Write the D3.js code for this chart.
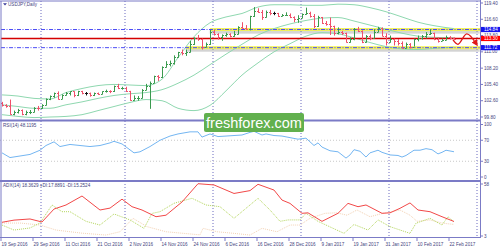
<!DOCTYPE html>
<html>
<head>
<meta charset="utf-8">
<script src="https://cdn.jsdelivr.net/npm/d3@7"></script>
<style>
  body { margin: 0; background: #fff; }
  svg { display: block; }
  text { font-family: "Liberation Sans", Arial, sans-serif; }
</style>
</head>
<body>
<svg id="chart" width="500" height="250"></svg>
<script>
// daily bars, 19 Sep 2016 .. 23 Feb 2017 (index = bar number)
var open = [102.2,101.8,101.7,100.3,100.7,101.0,100.3,100.6,100.7,101.4,
  101.3,101.9,102.9,103.4,103.9,102.9,103.6,103.9,104.2,103.5,
  104.2,103.9,103.9,103.5,103.9,103.8,104.2,104.3,104.2,105.1,
  104.7,104.8,104.2,102.7,103.0,103.1,104.5,105.2,105.7,106.8,
  106.6,108.4,108.9,109.1,110.2,110.9,110.8,111.0,112.4,113.3,
  113.2,111.9,112.3,114.5,114.0,113.5,113.9,114.1,113.8,114.1,
  115.3,115.1,115.0,117.1,118.1,117.9,117.0,117.9,117.6,117.6,
  117.2,117.3,117.4,117.0,116.6,116.9,117.5,117.7,117.2,115.4,
  117.0,115.9,115.8,115.4,114.2,114.5,114.2,112.7,113.2,115.0,
  114.6,112.7,113.8,113.3,114.5,115.1,113.8,112.7,113.2,112.8,
  112.6,111.7,112.3,111.9,113.2,113.3,113.7,114.1,114.2,113.2,
  112.9,113.1,113.6,113.3];
var high = [102.4,102.0,102.8,100.9,101.2,101.1,100.9,101.0,101.5,101.7,
  102.0,103.0,103.5,104.0,104.2,103.7,104.1,104.2,104.2,104.3,
  104.3,104.1,104.0,104.0,104.0,104.2,104.5,104.4,105.2,105.5,
  105.0,105.0,104.3,103.5,103.4,104.6,105.5,105.9,106.9,107.0,
  108.5,109.4,109.5,110.4,111.0,111.4,111.4,112.9,113.5,113.9,
  113.3,112.6,114.8,114.8,114.2,114.0,114.3,114.2,114.6,115.4,
  116.1,115.6,117.2,118.7,118.5,118.2,118.1,118.2,117.9,117.7,
  117.5,117.8,117.6,117.1,117.3,117.6,118.6,117.9,117.5,117.2,
  117.0,116.3,116.9,115.5,115.2,114.6,114.3,113.5,115.1,115.3,
  114.7,113.9,114.0,114.9,115.3,115.2,114.2,113.8,113.3,113.2,
  112.8,112.6,112.5,113.3,113.8,113.9,114.4,114.9,114.3,113.5,
  113.3,113.8,113.7,113.5];
var low = [101.6,101.4,100.2,100.1,100.4,100.1,100.1,100.3,100.6,100.9,
  101.2,101.8,102.7,103.1,102.8,102.9,103.5,103.5,103.2,103.4,
  103.7,103.5,103.3,103.4,103.6,103.7,104.0,103.9,104.1,104.6,
  104.5,104.1,102.6,102.6,102.6,103.0,104.4,101.2,105.6,106.0,
  106.5,108.3,108.5,108.8,110.0,110.4,110.3,110.9,112.2,112.9,
  111.4,111.8,112.2,113.8,113.1,112.9,113.6,113.5,113.6,114.0,
  115.0,114.8,114.7,117.0,117.7,116.5,116.9,117.3,117.3,117.0,
  117.1,117.2,116.8,116.1,116.0,116.8,117.4,116.9,115.1,115.3,
  115.8,115.5,113.9,113.8,114.0,113.9,112.6,112.6,113.0,114.4,
  112.5,112.6,113.0,113.3,114.4,113.7,112.1,112.6,112.1,112.1,
  111.6,111.6,111.6,111.9,112.8,113.1,113.3,113.9,113.0,112.6,
  112.9,113.0,113.1,113.0];
var close = [101.8,101.7,100.3,100.7,101.0,100.3,100.6,100.7,101.4,101.3,
  101.9,102.9,103.4,103.9,102.9,103.6,103.9,104.2,103.5,104.2,
  103.9,103.9,103.5,103.9,103.8,104.2,104.3,104.2,105.1,104.7,
  104.8,104.2,102.7,103.0,103.1,104.5,105.2,105.7,106.8,106.6,
  108.4,108.9,109.1,110.2,110.9,110.8,111.0,112.4,113.3,113.2,
  111.9,112.3,114.5,114.0,113.5,113.9,114.1,113.8,114.1,115.3,
  115.1,115.0,117.1,118.1,117.9,117.0,117.9,117.6,117.6,117.2,
  117.3,117.4,117.0,116.6,116.9,117.5,117.7,117.2,115.4,117.0,
  115.9,115.8,115.4,114.2,114.5,114.2,112.7,113.2,115.0,114.6,
  112.7,113.8,113.3,114.5,115.1,113.8,112.7,113.2,112.8,112.6,
  111.7,112.3,111.9,113.2,113.3,113.7,114.1,114.2,113.2,112.9,
  113.1,113.6,113.3,113.2];

// Bollinger bands: [bar, value]
var bbUpper = [[0,103.6],[4,103.4],[8,103.0],[12,102.9],[16,104.0],[20,104.7],[24,105.2],[28,105.4],
  [32,105.3],[36,105.2],[40,106.3],[44,110.0],[48,113.6],[52,116.0],[56,117.0],[60,117.6],[64,118.7],
  [68,119.1],[72,119.1],[76,119.0],[80,119.0],[84,119.2],[88,119.1],[92,118.6],[96,117.9],[100,117.0],
  [104,116.1],[108,115.5],[113,115.0]];
var bbMiddle = [[0,101.9],[4,101.6],[8,101.3],[12,101.3],[16,101.9],[20,102.4],[24,103.0],[28,103.5],
  [32,103.8],[36,104.0],[40,104.5],[44,105.6],[48,107.0],[52,108.8],[56,110.6],[60,112.3],[64,113.9],
  [68,115.0],[72,115.8],[76,116.4],[80,116.8],[84,116.9],[88,116.3],[92,115.6],[96,114.9],[100,114.2],
  [104,113.7],[108,113.5],[113,113.4]];
var bbLower = [[0,100.2],[4,99.9],[8,99.7],[12,99.8],[16,99.9],[20,100.2],[24,100.9],[28,101.6],
  [32,102.3],[36,102.8],[40,102.6],[44,101.3],[48,100.9],[52,101.8],[56,104.3],[60,107.0],[64,109.1],
  [68,111.0],[72,112.4],[76,113.7],[80,114.3],[84,114.1],[88,113.4],[92,112.6],[96,111.9],[100,111.5],
  [104,111.4],[108,111.6],[113,111.8]];

var rsi = [[0,46],[2,37],[4.5,40],[7,43],[9.5,51],[11,60],[13,67],[14.5,58],[17,62],[19.5,60],[22,58],
  [24.5,60],[27,65],[28,68],[30,63],[33,46],[34.5,48],[37,58],[39.5,70],[42,78],[44,82],[47,86],[49,86],
  [50,76],[52,82],[54,77],[56,78],[58,79],[60,80],[62,85],[63,87],[65,80],[66,82],[68,79],[70,78],[72,75],
  [74,72],[76,74],[78,60],[79,65],[80,57],[82,50],[84,48],[86,36],[87,42],[88,52],[89.5,49],[91,38],
  [92,46],[94,51],[95,47],[97,42],[99,41],[100,38],[101,41],[103,51],[104.5,51],[106,54],[107.5,52],
  [109,44],[110,47],[111,51],[113,48.1195]];

var adx = [[0,17.5],[3,19.8],[7,21],[10,17.8],[13,31.5],[16,35.8],[20,45.3],[24.5,30.5],[27,32.5],[30,42],
  [32.5,34],[35,30.5],[38.5,23.4],[41,25],[45,39],[49,58.3],[53,57],[58,48],[62,51],[64,57.7],[68,51.6],
  [70,41],[72,37.5],[75,27],[76.5,27.5],[80,18.5],[84,27],[86.5,37.5],[89,34],[91,35.8],[95,27],[97,27.5],
  [99.5,32.3],[102,38],[104,30.5],[107,28.7],[110,23.4],[113,18.3629]];
var plusDI = [[0,14.6],[3,9.3],[7,11.5],[9.5,16.7],[12.5,35.8],[15,28.7],[17,28.7],[21,18.5],[24.5,14.6],
  [28,26.3],[32,20],[35.5,11.1],[37.5,26.9],[39.5,28.7],[43,37.6],[47.5,42.9],[51,35.8],[54.5,34],[58,21.7],
  [62,35.8],[64,42.9],[67,30.5],[69.5,18.5],[71.5,20],[74.5,20],[76,27],[79,18.5],[85.5,5.8],[88,15.2],
  [91.5,9.3],[94,20],[97,12.9],[102,5.8],[103.5,16.5],[107,21.7],[110,14.6],[111.5,23.4],[113,17.8891]];
var minusDI = [[0,16.7],[4.5,16.7],[9.5,14.6],[13.5,9.3],[20,6],[26,4],[29.5,7.5],[32.75,21.7],[36.25,12.9],
  [41,7.5],[49.5,4.2],[50.25,11.1],[53.75,7.5],[58,5.8],[62,4],[65,11.1],[68.75,7.5],[72,14.6],[74.5,14.6],
  [77,21.7],[80.75,27],[83.75,27.5],[86.25,25],[88.75,30.5],[92,23.4],[95.25,27],[99.5,30.5],[102,25],
  [103.75,18.5],[107,20],[110.25,16.5],[113,15.2524]];

var dateLabels = ["19 Sep 2016","29 Sep 2016","11 Oct 2016","21 Oct 2016","2 Nov 2016","14 Nov 2016",
  "24 Nov 2016","6 Dec 2016","16 Dec 2016","28 Dec 2016","9 Jan 2017","19 Jan 2017","31 Jan 2017",
  "10 Feb 2017","22 Feb 2017"];
var dateIdx = [0,8,16,24,32,40,48,56,64,72,80,88,96,104,112];
var monthIdx = [10,31,53,75,97,119];

var priceTicks = [119.40,116.60,113.80,111.00,108.20,105.40,102.60,99.80];
var rsiTicks = [100,70,30,0];
var adxTicks = [58,3];

var levels = [114.84, 111.72];      // blue support / resistance
var zoneStart = [52, 46];           // where the yellow zones begin
var pivot = 113.30;                 // red line
var forecast = [[112.75,113.05],[114,112.3],[116.2,114.1],[118.6,112.35]];

// ==========================================================================
var svg = d3.select("#chart");
var axisCol = "#7b7bc6", textCol = "#44447e";

var x = d3.scaleLinear().domain([0, 119]).range([2, 478]);
var yP = d3.scaleLinear().domain([99.8, 119.4]).range([117, 3]);
var yR = d3.scaleLinear().domain([0, 100]).range([177, 124.5]);
var yA = d3.scaleLinear().domain([3, 58]).range([236, 184]);

var defs = svg.append("defs");
defs.append("marker").attr("id", "arrow").attr("viewBox", "0 0 10 10")
  .attr("refX", 6).attr("refY", 5).attr("markerWidth", 5).attr("markerHeight", 5)
  .attr("orient", "auto")
  .append("path").attr("d", "M0,0 L10,5 L0,10 Z").attr("fill", "#e01818");
defs.append("filter").attr("id", "soft").append("feGaussianBlur").attr("stdDeviation", 0.8);

// month separators
svg.append("g").selectAll("line").data(monthIdx).enter().append("line")
  .attr("x1", d => x(d) - 1).attr("x2", d => x(d) - 1)
  .attr("y1", 1).attr("y2", 238)
  .attr("stroke", "#6a6ac0").attr("stroke-width", 1).attr("stroke-dasharray", "1,2");

// rsi 70 / 30 levels
svg.append("g").selectAll("line").data([70, 30]).enter().append("line")
  .attr("x1", 0).attr("x2", 480).attr("y1", d => yR(d)).attr("y2", d => yR(d))
  .attr("stroke", "#c8c8c8").attr("stroke-dasharray", "1,2");

// yellow zones
var zones = svg.append("g");
levels.forEach(function(lv, i) {
  zones.append("rect").attr("x", x(zoneStart[i])).attr("y", yP(lv) + 1)
    .attr("width", 480 - x(zoneStart[i])).attr("height", 3)
    .attr("fill", "#9a9a9a").attr("opacity", 0.55).attr("filter", "url(#soft)");
  zones.append("rect").attr("x", x(zoneStart[i])).attr("y", yP(lv) - 1.5)
    .attr("width", 480 - x(zoneStart[i])).attr("height", 3)
    .attr("fill", "#f2f25a");
});

// bollinger bands
var bandLine = d3.line().x(d => x(d[0])).y(d => yP(d[1])).curve(d3.curveMonotoneX);
svg.append("g").selectAll("path").data([bbUpper, bbMiddle, bbLower]).enter().append("path")
  .attr("d", bandLine).attr("fill", "none").attr("stroke", "#8fd8b0").attr("stroke-width", 1);

// horizontal levels
svg.append("g").selectAll("line").data(levels).enter().append("line")
  .attr("x1", 1).attr("x2", 480).attr("y1", d => yP(d)).attr("y2", d => yP(d))
  .attr("stroke", "#4b4bf5").attr("stroke-width", 1).attr("stroke-dasharray", "4,1.5,1,1.5");
svg.append("line").attr("x1", 1).attr("x2", 480).attr("y1", yP(pivot)).attr("y2", yP(pivot))
  .attr("stroke", "#d40000").attr("stroke-width", 1.3);

// OHLC bars
var bars = d3.range(open.length).map(function(i) {
  return {i: i, o: open[i], h: high[i], l: low[i], c: close[i]};
});
var barCol = function(d) {
  if (Math.abs(d.c - d.o) < 0.05) return "#111";
  return d.c > d.o ? "#3a9a4e" : "#f0506a";
};
var bg = svg.append("g").selectAll("g").data(bars).enter().append("g")
  .attr("stroke", barCol).attr("stroke-width", 1);
bg.append("line").attr("x1", d => x(d.i) + 0.5).attr("x2", d => x(d.i) + 0.5)
  .attr("y1", d => yP(d.h)).attr("y2", d => yP(d.l));
bg.append("line").attr("x1", d => x(d.i) - 1).attr("x2", d => x(d.i) + 0.5)
  .attr("y1", d => Math.round(yP(d.o)) + 0.5).attr("y2", d => Math.round(yP(d.o)) + 0.5);
bg.append("line").attr("x1", d => x(d.i) + 0.5).attr("x2", d => x(d.i) + 2)
  .attr("y1", d => Math.round(yP(d.c)) + 0.5).attr("y2", d => Math.round(yP(d.c)) + 0.5);

// forecast curve
svg.append("path").datum(forecast)
  .attr("d", d3.line().x(d => x(d[0])).y(d => yP(d[1])).curve(d3.curveCatmullRom))
  .attr("fill", "none").attr("stroke", "#e01818").attr("stroke-width", 1.3)
  .attr("marker-end", "url(#arrow)");

// RSI
svg.append("path").datum(rsi)
  .attr("d", d3.line().x(d => x(d[0])).y(d => yR(d[1])))
  .attr("fill", "none").attr("stroke", "#74b6f2").attr("stroke-width", 1);

// ADX / DI
var adxLine = d3.line().x(d => x(d[0])).y(d => yA(d[1]));
svg.append("path").datum(minusDI).attr("d", adxLine).attr("fill", "none")
  .attr("stroke", "#f3d2b4").attr("stroke-width", 1).attr("stroke-dasharray", "1,1");
svg.append("path").datum(plusDI).attr("d", adxLine).attr("fill", "none")
  .attr("stroke", "#b4d65c").attr("stroke-width", 1).attr("stroke-dasharray", "1,1");
svg.append("path").datum(adx).attr("d", adxLine).attr("fill", "none")
  .attr("stroke", "#f24848").attr("stroke-width", 1);

// frame
var frame = svg.append("g").attr("stroke", axisCol).attr("fill", "none");
frame.append("line").attr("x1", 0).attr("x2", 481).attr("y1", 1).attr("y2", 1);
frame.append("line").attr("x1", 1).attr("x2", 1).attr("y1", 1).attr("y2", 238);
frame.append("line").attr("x1", 0).attr("x2", 481).attr("y1", 120.5).attr("y2", 120.5).attr("stroke-width", 2);
frame.append("line").attr("x1", 0).attr("x2", 481).attr("y1", 181).attr("y2", 181).attr("stroke-width", 2);
frame.append("line").attr("x1", 0).attr("x2", 481).attr("y1", 237.5).attr("y2", 237.5);
frame.append("line").attr("x1", 480.5).attr("x2", 480.5).attr("y1", 0).attr("y2", 238);

// right axis
var axisG = svg.append("g").attr("font-size", 4.6).attr("fill", textCol);
function rightTicks(vals, scale, fmt) {
  vals.forEach(function(v) {
    axisG.append("line").attr("x1", 480).attr("x2", 483).attr("y1", scale(v)).attr("y2", scale(v))
      .attr("stroke", axisCol);
    axisG.append("text").attr("x", 484).attr("y", scale(v) + 1.6).text(fmt(v));
  });
}
rightTicks(priceTicks, yP, d3.format(".2f"));
rightTicks(rsiTicks, yR, d3.format("d"));
rightTicks(adxTicks, yA, d3.format("d"));

// price boxes
var boxes = [[levels[0], "#1414ee"], [pivot, "#ff0000"], [levels[1], "#1414ee"]];
boxes.forEach(function(b) {
  axisG.append("rect").attr("x", 481).attr("y", yP(b[0]) - 2.6).attr("width", 19).attr("height", 5.2)
    .attr("fill", b[1]);
  axisG.append("text").attr("x", 484).attr("y", yP(b[0]) + 1.6).attr("fill", "#fff").text(d3.format(".2f")(b[0]));
});

// date axis
var dateG = svg.append("g").attr("font-size", 4.6).attr("fill", textCol);
dateG.selectAll("line").data(dateIdx).enter().append("line")
  .attr("x1", d => x(d) - 1).attr("x2", d => x(d) - 1).attr("y1", 238).attr("y2", 241)
  .attr("stroke", axisCol);
dateG.selectAll("text").data(dateIdx).enter().append("text")
  .attr("x", d => x(d) - 0.5).attr("y", 245.5).text((d, i) => dateLabels[i]);

// pane titles
var titles = svg.append("g").attr("font-size", 4.6).attr("fill", textCol);
titles.append("path").attr("d", "M3,3.2 L7,3.2 L5,5.6 Z").attr("fill", "#3a3a9a");
titles.append("text").attr("x", 8).attr("y", 5.6).text("USDJPY,Daily");
titles.append("text").attr("x", 3).attr("y", 126.5).text("RSI(14) 48.1195");
titles.append("text").attr("x", 3).attr("y", 187).text("ADX(14) 18.3629 +DI:17.8891 -DI:15.2524");

// watermark
var wm = svg.append("g");
wm.append("rect").attr("x", 204).attr("y", 113).attr("width", 100).attr("height", 19).attr("rx", 2)
  .attr("fill", "#62b04e");
wm.append("text").attr("x", 254).attr("y", 127.5).attr("text-anchor", "middle")
  .attr("font-size", 14.5).attr("fill", "#fff").text("freshforex.com");
</script>
</body>
</html>
